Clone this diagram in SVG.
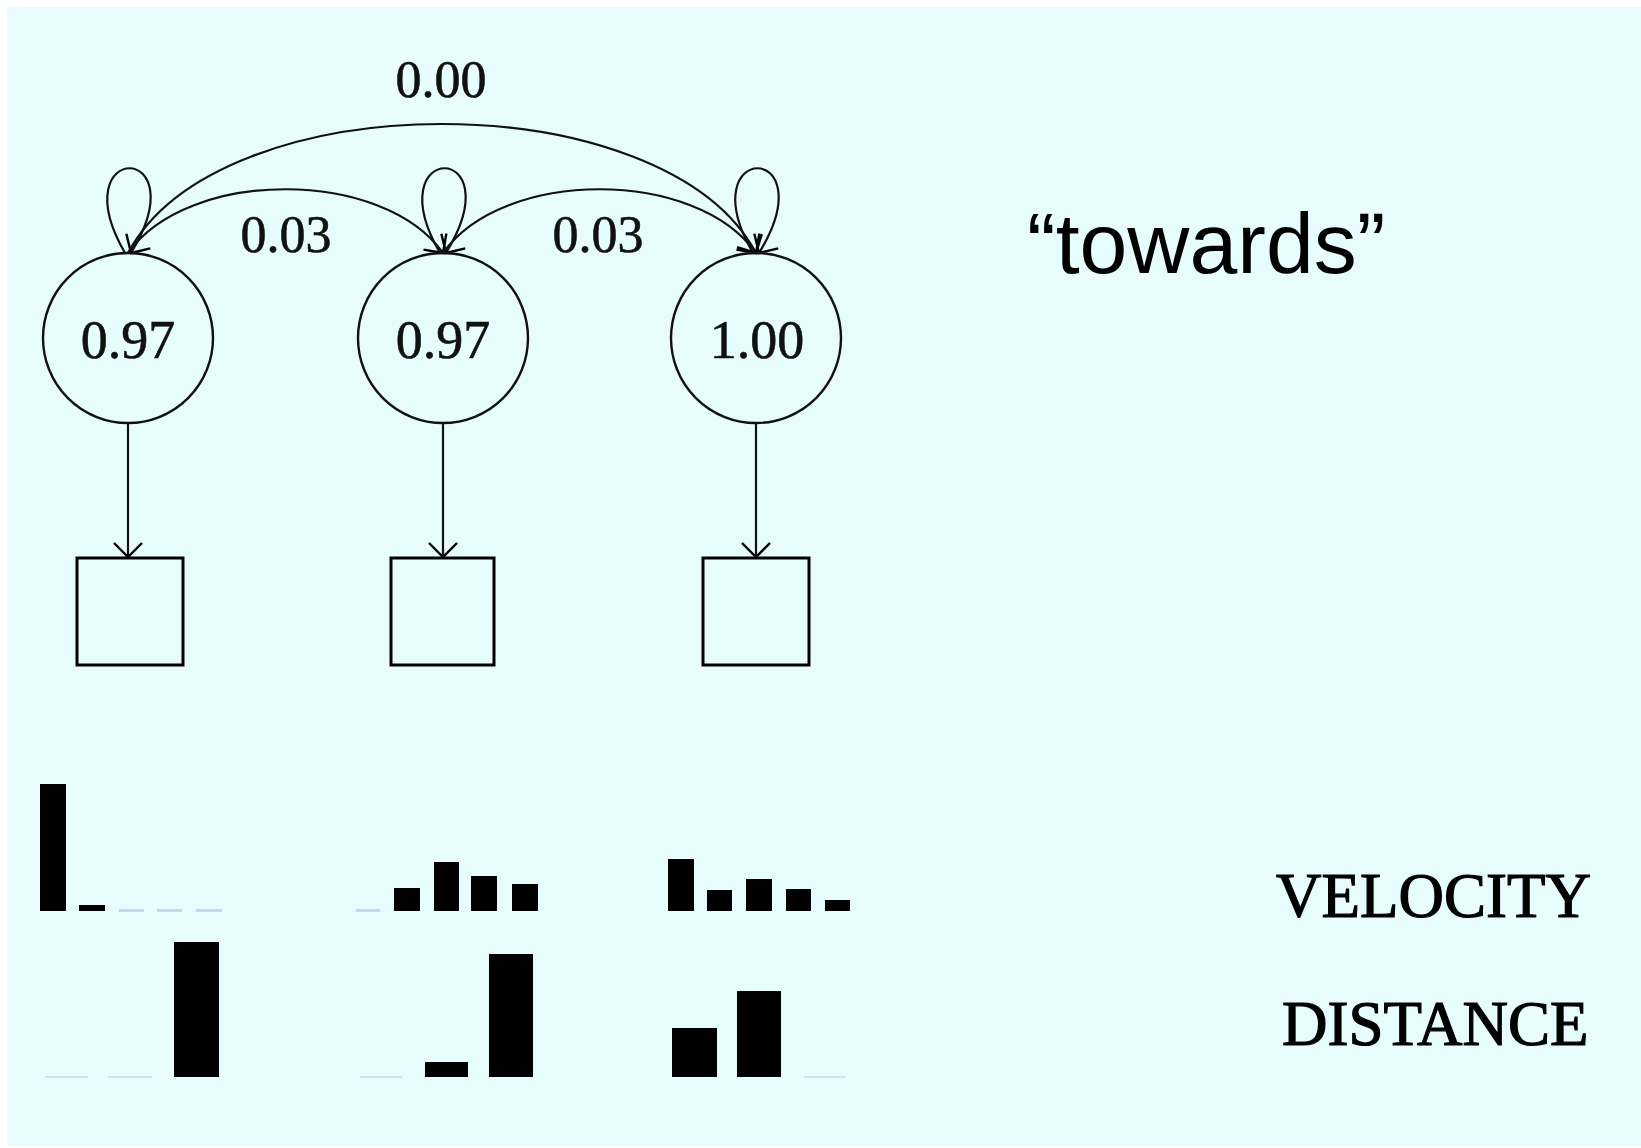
<svg xmlns="http://www.w3.org/2000/svg" width="1641" height="1148" viewBox="0 0 1641 1148">
  <style>
    .state { fill: none; stroke: #111; stroke-width: 2.4; }
    .box { fill: none; stroke: #000; stroke-width: 3; }
    .edge { fill: none; stroke: #111; stroke-width: 2.2; }
    .num { font-family: "Liberation Serif", "Times New Roman", serif; font-size: 54px; fill: #111; stroke: #111; stroke-width: 0.6; text-anchor: middle; }
    .elabel { font-family: "Liberation Serif", "Times New Roman", serif; font-size: 52px; fill: #111; stroke: #111; stroke-width: 0.6; text-anchor: middle; }
    .axis { font-family: "Liberation Serif", "Times New Roman", serif; font-size: 63px; fill: #000; stroke: #000; stroke-width: 1.2; }
    .title { font-family: "Liberation Sans", Arial, sans-serif; font-size: 86px; fill: #000; }
    .bar { fill: #000; }
    .zero { fill: #c8d6f4; }
    .zero2 { fill: #d2e2f6; }
  </style>
  <defs>
    <marker id="vhead" viewBox="-18 -17 20 34" markerWidth="20" markerHeight="34" refX="0" refY="0" orient="auto" markerUnits="userSpaceOnUse">
      <path d="M-14,-14 L0,0 L-14,14" fill="none" stroke="#000" stroke-width="2.4"/>
    </marker>
  </defs>

  <rect x="0" y="0" width="1641" height="1148" fill="#ffffff"/>
  <rect x="7" y="7" width="1634" height="1139" fill="#e7fdfd"/>

  <!-- transitions, self-loops and emissions -->
  <g id="connectors">
    <path class="edge" d="M125,253 C60,140 200,140 131,253" marker-end="url(#vhead)"/>
    <path class="edge" d="M440,253 C375,140 515,140 446,253" marker-end="url(#vhead)"/>
    <path class="edge" d="M753,253 C688,140 828,140 759,253" marker-end="url(#vhead)"/>
    <path class="edge" d="M128,253 C220,81 664,81 756,253" marker-end="url(#vhead)"/>
    <path class="edge" d="M128,253 C188,168 383,168 443,253" marker-end="url(#vhead)"/>
    <path class="edge" d="M443,253 C503,168 696,168 756,253" marker-end="url(#vhead)"/>
    <line class="edge" x1="128" y1="424" x2="128" y2="557" marker-end="url(#vhead)"/>
    <line class="edge" x1="443" y1="424" x2="443" y2="557" marker-end="url(#vhead)"/>
    <line class="edge" x1="756" y1="424" x2="756" y2="557" marker-end="url(#vhead)"/>
  </g>

  <g id="edge-labels">
    <text class="elabel" x="441" y="97">0.00</text>
    <text class="elabel" x="286" y="252">0.03</text>
    <text class="elabel" x="598" y="252">0.03</text>
  </g>

  <g id="state1">
    <circle class="state" cx="128" cy="338" r="85"/>
    <text class="num" x="128" y="358">0.97</text>
  </g>
  <g id="state2">
    <circle class="state" cx="443" cy="338" r="85"/>
    <text class="num" x="443" y="358">0.97</text>
  </g>
  <g id="state3">
    <circle class="state" cx="756" cy="338" r="85"/>
    <text class="num" x="757" y="358">1.00</text>
  </g>

  <g id="obs1"><rect class="box" x="77" y="558" width="106" height="107"/></g>
  <g id="obs2"><rect class="box" x="391" y="558" width="103" height="107"/></g>
  <g id="obs3"><rect class="box" x="703" y="558" width="106" height="107"/></g>

  <g id="label-towards">
    <text class="title" x="1027" y="273">“towards”</text>
  </g>

  <!-- velocity histograms -->
  <g id="velocity-bars">
    <rect class="bar" x="40" y="784" width="26" height="127"/>
    <rect class="bar" x="79" y="905" width="26" height="6"/>
    <rect class="zero" x="119" y="909" width="25" height="3"/>
    <rect class="zero" x="157" y="909" width="25" height="3"/>
    <rect class="zero" x="196" y="909" width="26" height="3"/>

    <rect class="zero" x="356" y="909" width="24" height="3"/>
    <rect class="bar" x="394" y="888" width="26" height="23"/>
    <rect class="bar" x="434" y="862" width="25" height="49"/>
    <rect class="bar" x="471" y="876" width="26" height="35"/>
    <rect class="bar" x="512" y="884" width="26" height="27"/>

    <rect class="bar" x="668" y="859" width="26" height="52"/>
    <rect class="bar" x="707" y="890" width="25" height="21"/>
    <rect class="bar" x="746" y="879" width="26" height="32"/>
    <rect class="bar" x="786" y="889" width="25" height="22"/>
    <rect class="bar" x="825" y="900" width="25" height="11"/>
  </g>

  <!-- distance histograms -->
  <g id="distance-bars">
    <rect class="zero2" x="45" y="1076" width="43" height="2"/>
    <rect class="zero2" x="108" y="1076" width="44" height="2"/>
    <rect class="bar" x="174" y="942" width="45" height="135"/>

    <rect class="zero2" x="360" y="1076" width="42" height="2"/>
    <rect class="bar" x="425" y="1062" width="43" height="15"/>
    <rect class="bar" x="489" y="954" width="44" height="123"/>

    <rect class="bar" x="672" y="1028" width="45" height="49"/>
    <rect class="bar" x="737" y="991" width="44" height="86"/>
    <rect class="zero2" x="804" y="1076" width="42" height="2"/>
  </g>

  <g id="axis-labels">
    <text class="axis" x="1276" y="917">VELOCITY</text>
    <text class="axis" x="1282" y="1045">DISTANCE</text>
  </g>
</svg>
